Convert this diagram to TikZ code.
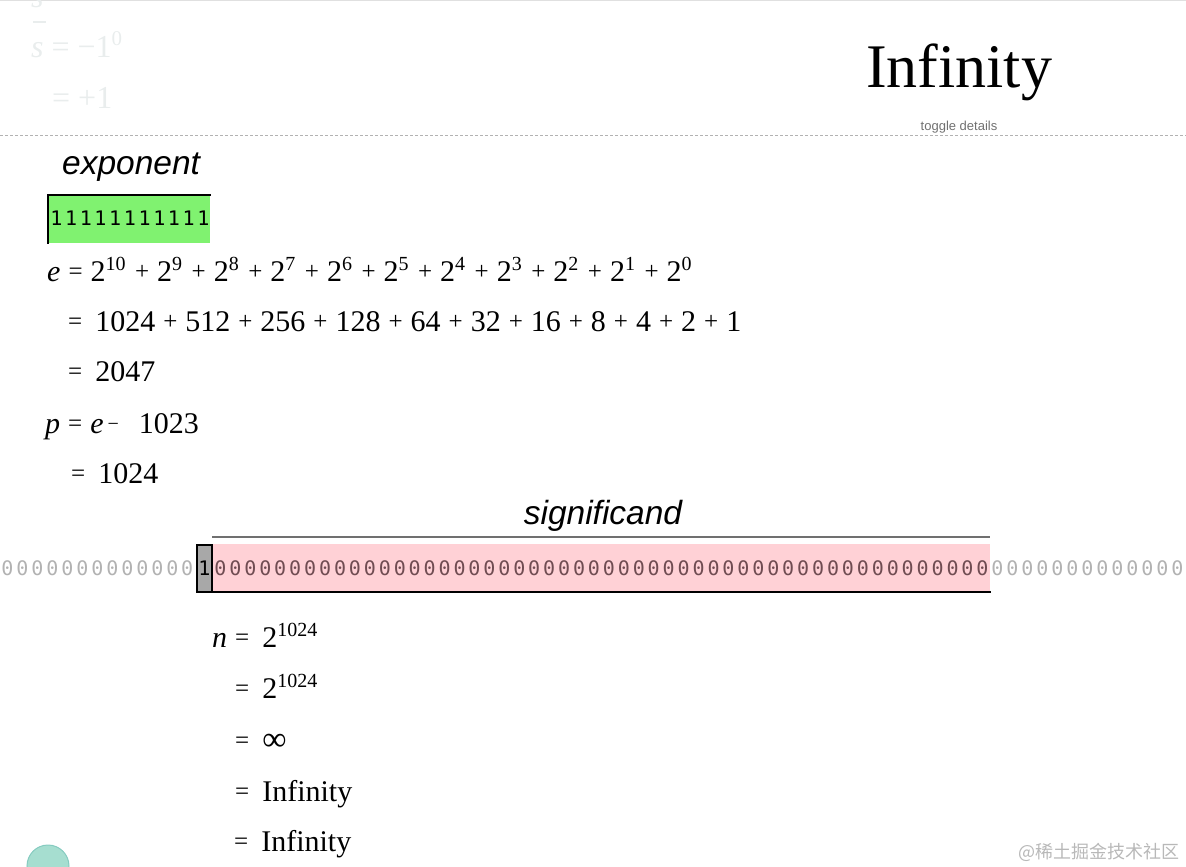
\documentclass[tikz,border=0pt]{standalone}
\usepackage{fontspec}
\setmainfont{Liberation Serif}
\setsansfont{Liberation Sans}
\setmonofont{DejaVu Sans Mono}
\newfontfamily\cjk{Noto Sans CJK SC}
\usetikzlibrary{positioning}

\definecolor{expgreen}{RGB}{128,242,112}
\definecolor{sigpink}{RGB}{255,209,214}
\definecolor{hidgray}{RGB}{168,168,168}
\definecolor{ghost}{RGB}{178,178,178}
\definecolor{sigdigit}{RGB}{112,76,82}
\definecolor{fade}{RGB}{233,237,237}
\definecolor{rule}{RGB}{112,112,112}
\definecolor{bubble}{RGB}{166,222,208}

% small operators and powers, as the page sets them
\newcommand\op[1]{\hspace{8pt}\raisebox{2pt}{\fontsize{25}{25}\selectfont#1}\hspace{8pt}}
\newcommand\pw[2]{#1\raisebox{11pt}{\fontsize{20}{20}\selectfont#2}\hspace{1.5pt}}
\newcommand\lead{\raisebox{2pt}{\fontsize{25}{25}\selectfont=}\hspace{13pt}}

\tikzset{
  eq/.style = {anchor=base west, inner sep=0pt,
      font=\fontsize{30}{30}\selectfont},
  bitchar/.style = {anchor=base, inner sep=0pt,
      font=\fontsize{20}{20}\ttfamily},
  ghostbit/.style = {bitchar, text=ghost},
  sigbit/.style = {bitchar, text=sigdigit},
  fieldname/.style = {anchor=base, inner sep=0pt,
      font=\fontsize{33.5}{33.5}\sffamily\itshape},
  faded/.style = {anchor=base west, inner sep=0pt, text=fade,
      font=\fontsize{32}{32}\selectfont},
  edgeline/.style = {line width=2pt, line cap=rect},
}

\begin{document}
\begin{tikzpicture}[x=1pt, y=-1pt]
  \useasboundingbox (0,0) rectangle (1186,867);

  % header
  \draw[black!12, line width=1pt] (0,0.5) -- (1186,0.5);
  \node[faded] (cut) at (31,8) {\textit{s}};
  \draw[fade, line width=1.5pt] (33,22) -- (46,22);
  \node[faded] (sign) at (31,58) {\textit{s} = −1\raisebox{12pt}{\fontsize{21}{21}\selectfont 0}};
  \node[faded] (signval) at (52,108) {= +1};
  \node[anchor=base, inner sep=0pt, font=\fontsize{62}{62}\selectfont] (title) at (959,88) {Infinity};
  \node[anchor=base, inner sep=0pt, text=rule, font=\fontsize{13}{13}\sffamily] (toggle) at (959,130) {toggle details};
  \draw[black!30, line width=1pt, dash pattern=on 3pt off 2pt] (0,135.5) -- (1186,135.5);

  % exponent field
  \node[fieldname, anchor=base west] (explabel) at (62,174) {exponent};
  \fill[expgreen] (47,194) rectangle (210,243);
  \draw[edgeline] (48,243) -- (48,195) -- (210,195);
  \foreach \i in {0,...,10}
    \node[bitchar] (e\i) at ({56.4+\i*14.7},225) {1};

  \node[eq] (erow) at (47,281) {\textit{e}\op{=}\pw{2}{10}\op{+}\pw{2}{9}\op{+}\pw{2}{8}\op{+}\pw{2}{7}\op{+}\pw{2}{6}\op{+}\pw{2}{5}\op{+}\pw{2}{4}\op{+}\pw{2}{3}\op{+}\pw{2}{2}\op{+}\pw{2}{1}\op{+}\pw{2}{0}};
  \node[eq] (esum) at (68,331) {\lead 1024\op{+}512\op{+}256\op{+}128\op{+}64\op{+}32\op{+}16\op{+}8\op{+}4\op{+}2\op{+}1};
  \node[eq] (eval) at (68,381) {\lead 2047};
  \node[eq] (prow) at (45,433) {\textit{p}\op{=}\textit{e}\hspace{4pt}\raisebox{3pt}{\fontsize{20}{20}\selectfont −}\hspace{20pt}1023};
  \node[eq] (pval) at (71,483) {\lead 1024};

  % significand field
  \node[fieldname] (siglabel) at (603,524) {significand};
  \draw[rule, line width=2pt] (212,537) -- (990,537);
  \fill[sigpink] (212,544) rectangle (990,593);
  \fill[hidgray] (197,545) rectangle (212,592);
  \draw[edgeline] (197,545) rectangle (212,592);
  \draw[edgeline] (212,592) -- (990,592);
  \foreach \i in {0,...,12}
    \node[ghostbit] (l\i) at ({7.5+\i*14.98},575) {0};
  \node[bitchar] (hidden) at (204.5,575) {1};
  \foreach \i in {0,...,51}
    \node[sigbit] (s\i) at ({220.5+\i*14.94},575) {0};
  \foreach \i in {0,...,12}
    \node[ghostbit] (r\i) at ({997.5+\i*15},575) {0};

  \node[eq] (nrow) at (212,647) {\textit{n}\hspace{8pt}\lead\pw{2}{1024}};
  \node[eq] (nval1) at (235,698) {\lead\pw{2}{1024}};
  \node[eq] (nval2) at (235,750) {\lead{\fontsize{34}{34}\selectfont ∞}};
  \node[eq] (nval3) at (235,801) {\lead Infinity};
  \node[eq] (nval4) at (234,851) {\lead Infinity};

  % footer
  \fill[bubble, draw=bubble!80!teal, line width=1pt] (48,866) circle (21);
  \node[anchor=base east, inner sep=0pt, text=black!28, font=\fontsize{18}{18}\cjk] (mark) at (1180,858) {@稀土掘金技术社区};
\end{tikzpicture}
\end{document}
